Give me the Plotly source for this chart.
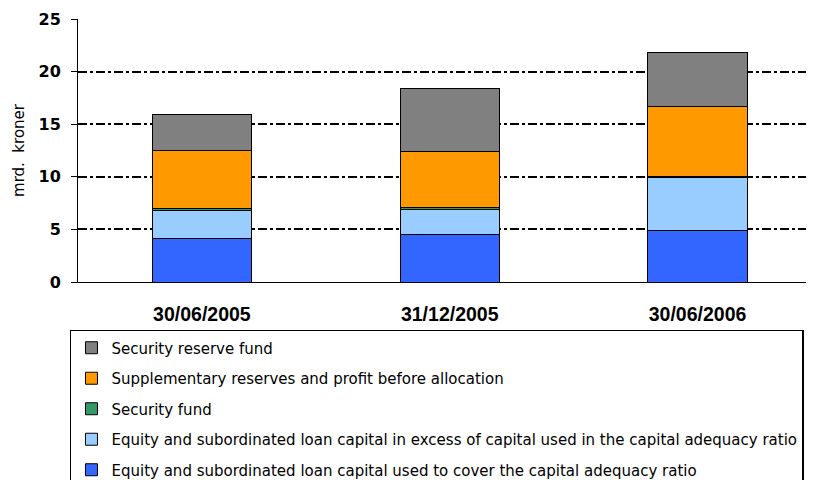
import plotly.graph_objects as go

categories = ["30/06/2005", "31/12/2005", "30/06/2006"]
equity_used = [4.15, 4.53, 4.94]
equity_excess = [2.69, 2.38, 4.95]
security_fund = [0.19, 0.15, 0.12]
supplementary = [5.45, 5.30, 6.65]
security_reserve = [3.49, 6.00, 5.17]

series = [
    ("Equity and subordinated loan capital used to cover the capital adequacy ratio", equity_used, "#3366FF"),
    ("Equity and subordinated loan capital in excess of capital used in the capital adequacy ratio", equity_excess, "#99CCFF"),
    ("Security fund", security_fund, "#339966"),
    ("Supplementary reserves and profit before allocation", supplementary, "#FF9900"),
    ("Security reserve fund", security_reserve, "#808080"),
]

fig = go.Figure()
for i, (name, vals, col) in enumerate(series):
    fig.add_trace(go.Bar(
        x=categories, y=vals, name=name, legendgroup=f"g{i}", legendrank=10 - i,
        marker=dict(color=col, line=dict(color="#000000", width=1)),
        width=0.4,
    ))

# page body has an 8px margin, so the figure is 8px smaller than the window
fig.update_layout(
    barmode="stack",
    width=806, height=472,
    margin=dict(l=70, r=0, t=11, b=198, autoexpand=False),
    plot_bgcolor="white", paper_bgcolor="white",
    font=dict(family="DejaVu Sans", color="#000000"),
    legend=dict(
        x=-0.0109, y=-0.1825, xanchor="left", yanchor="top",
        font=dict(family="DejaVu Sans", size=15),
        bordercolor="#000000", borderwidth=1.5,
        traceorder="grouped", tracegroupgap=8,
        itemclick=False,
    ),
    showlegend=True,
)
fig.update_yaxes(
    range=[0, 25], tickvals=[0, 5, 10, 15, 20, 25],
    showline=True, linecolor="#000000", linewidth=1,
    ticks="outside", ticklen=6, tickcolor="#000000",
    tickfont=dict(family="DejaVu Sans", size=16, color="#000000", weight="bold"),
    ticklabelstandoff=7,
    showgrid=True, gridcolor="#000000", gridwidth=1.6, griddash="dashdot",
    zeroline=False,
    title=dict(text="mrd.  kroner", font=dict(family="DejaVu Sans", size=15), standoff=10),
)
fig.update_xaxes(
    range=[-0.5, 2.47],
    showline=True, linecolor="#000000", linewidth=1,
    ticks="", tickfont=dict(family="Liberation Sans Narrow, Liberation Sans", size=19.5,
                            color="#000000", weight="bold"),
    ticklabelstandoff=15,
)

fig.write_html("out.html")
